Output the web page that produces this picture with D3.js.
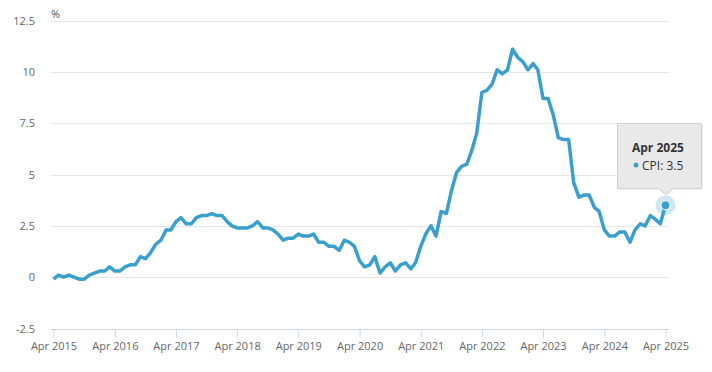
<!DOCTYPE html>
<html>
<head>
<meta charset="utf-8">
<script src="https://cdn.jsdelivr.net/npm/d3@7"></script>
<style>
  body { margin: 0; background: #fff; }
  svg { display: block; font-family: "Open Sans", sans-serif; }
</style>
</head>
<body>
<svg id="chart" width="712" height="372"></svg>
<script>
// monthly CPI 12-month rate, Apr 2015 .. Apr 2025
const start = new Date(2015, 3, 1);
const cpi = [
  -0.1, 0.1, 0.0, 0.1, 0.0, -0.1, -0.1, 0.1, 0.2,
  0.3, 0.3, 0.5, 0.3, 0.3, 0.5, 0.6, 0.6, 1.0, 0.9, 1.2, 1.6,
  1.8, 2.3, 2.3, 2.7, 2.9, 2.6, 2.6, 2.9, 3.0, 3.0, 3.1, 3.0,
  3.0, 2.7, 2.5, 2.4, 2.4, 2.4, 2.5, 2.7, 2.4, 2.4, 2.3, 2.1,
  1.8, 1.9, 1.9, 2.1, 2.0, 2.0, 2.1, 1.7, 1.7, 1.5, 1.5, 1.3,
  1.8, 1.7, 1.5, 0.8, 0.5, 0.6, 1.0, 0.2, 0.5, 0.7, 0.3, 0.6,
  0.7, 0.4, 0.7, 1.5, 2.1, 2.5, 2.0, 3.2, 3.1, 4.2, 5.1, 5.4,
  5.5, 6.2, 7.0, 9.0, 9.1, 9.4, 10.1, 9.9, 10.1, 11.1, 10.7, 10.5,
  10.1, 10.4, 10.1, 8.7, 8.7, 7.9, 6.8, 6.7, 6.7, 4.6, 3.9, 4.0,
  4.0, 3.4, 3.2, 2.3, 2.0, 2.0, 2.2, 2.2, 1.7, 2.3, 2.6, 2.5,
  3.0, 2.8, 2.6, 3.5
];
const yTicks = [-2.5, 0, 2.5, 5, 7.5, 10, 12.5];
const xTickYears = d3.range(2015, 2026);

const data = cpi.map((v, i) => ({ date: d3.timeMonth.offset(start, i), value: v }));

const svg = d3.select("#chart");
const left = 51, right = 669;

const x = d3.scaleTime()
  .domain([start, new Date(2025, 3, 1)])
  .range([53.5, 665.5]);

const y = d3.scaleLinear()
  .domain([-2.5, 12.5])
  .range([328.5, 20.5]);

const fmt = d3.timeFormat("%b %Y");

// grid
svg.append("g")
  .selectAll("line")
  .data(yTicks.filter(d => d > -2.5))
  .enter().append("line")
  .attr("x1", left).attr("x2", right)
  .attr("y1", d => Math.round(y(d)) + 0.5)
  .attr("y2", d => Math.round(y(d)) + 0.5)
  .attr("stroke", "#e6e6e6");

// y labels
svg.append("g")
  .selectAll("text")
  .data(yTicks)
  .enter().append("text")
  .attr("x", 35)
  .attr("y", d => y(d) + 4)
  .attr("text-anchor", "end")
  .attr("fill", "#666")
  .style("font-size", "11px")
  .text(d => d);

svg.append("text")
  .attr("x", 51).attr("y", 18)
  .attr("fill", "#555")
  .style("font-size", "11px")
  .text("%");

// x axis
const xAxis = svg.append("g")
  .attr("transform", `translate(0,${Math.round(y(-2.5)) + 0.5})`)
  .call(d3.axisBottom(x)
    .tickValues(xTickYears.map(yr => new Date(yr, 3, 1)))
    .tickFormat(fmt)
    .tickSizeInner(8)
    .tickSizeOuter(0)
    .tickPadding(5));
xAxis.select(".domain").attr("d", `M${left},0H${right}`).attr("stroke", "#ccd6eb");
xAxis.selectAll(".tick line").attr("stroke", "#ccd6eb");
xAxis.selectAll(".tick text")
  .attr("fill", "#666")
  .style("font-size", "11px")
  .style("font-family", "Open Sans, sans-serif");

// series
const line = d3.line()
  .x(d => x(d.date))
  .y(d => y(d.value));

svg.append("path")
  .datum(data)
  .attr("fill", "none")
  .attr("stroke", "#3a9fcd")
  .attr("stroke-width", 3.5)
  .attr("stroke-linejoin", "round")
  .attr("d", line);

// hovered point
const last = data[data.length - 1];
svg.append("circle")
  .attr("cx", x(last.date)).attr("cy", y(last.value))
  .attr("r", 10)
  .attr("fill", "#3a9fcd")
  .attr("fill-opacity", 0.25);
svg.append("circle")
  .attr("cx", x(last.date)).attr("cy", y(last.value))
  .attr("r", 4.5)
  .attr("fill", "#3a9fcd")
  .attr("stroke", "#fff")
  .attr("stroke-width", 1);

// tooltip
const tx = 617.5, ty = 123.5, tw = 84, th = 65;
const px = x(last.date);
const tip = svg.append("g");
tip.append("path")
  .attr("d", `M${tx + 1},${ty + 1}h${tw}v${th}h-${tw - (px - tx) - 7}l-7,6l-7,-6H${tx + 1}Z`)
  .attr("fill", "#000").attr("opacity", 0.08);
tip.append("path")
  .attr("d", `M${tx},${ty}h${tw}v${th}h-${tw - (px - tx) - 7}l-7,6l-7,-6H${tx}Z`)
  .attr("fill", "#e9e9e9")
  .attr("stroke", "#cfcfcf");
tip.append("text")
  .attr("x", 632).attr("y", 152)
  .attr("fill", "#333")
  .style("font-size", "12px")
  .style("font-weight", "bold")
  .text(fmt(last.date));
tip.append("circle")
  .attr("cx", 636).attr("cy", 165).attr("r", 2.5)
  .attr("fill", "#3a9fcd");
tip.append("text")
  .attr("x", 642).attr("y", 169.5)
  .attr("fill", "#333")
  .style("font-size", "12px")
  .text(`CPI: ${last.value}`);
</script>
</body>
</html>
